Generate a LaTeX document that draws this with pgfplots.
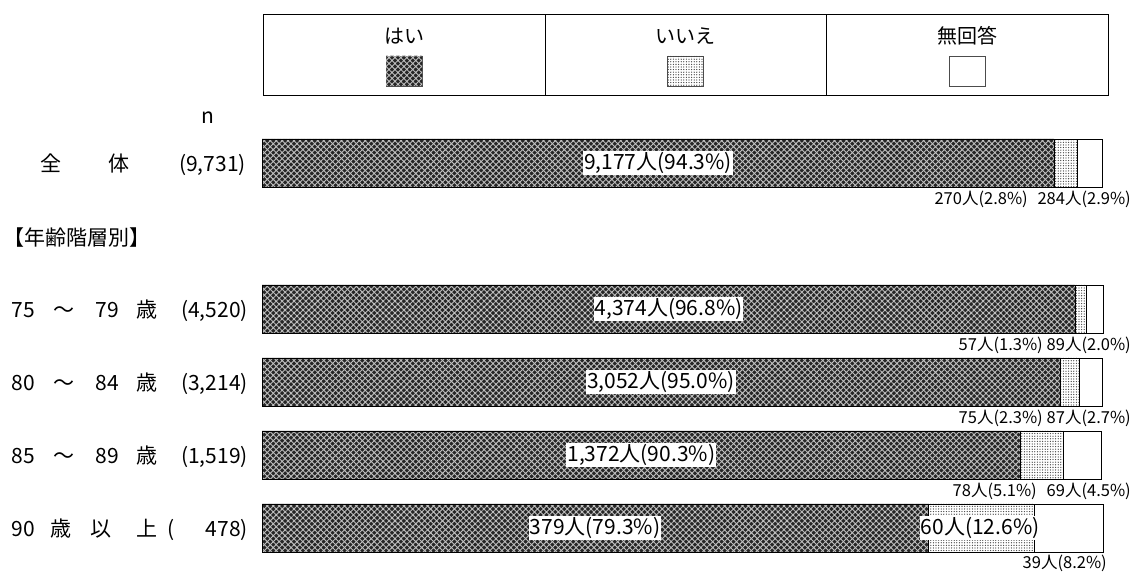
\documentclass[border=0pt]{standalone}
\usepackage{fontspec}
\setmainfont{Noto Sans CJK JP}
\usepackage{pgfplots}
\pgfplotsset{compat=1.18}
\usetikzlibrary{patterns.meta}

\tikzset{
 yesfill/.style={fill=black!85, postaction={pattern={Hatch[angle=45,distance=4.2pt,line width=0.9pt]}, pattern color=white!75!black}},
 nofill/.style={fill=white, postaction={pattern={Dots[distance=2.6pt,radius=0.65pt]}, pattern color=black!75}},
 nafill/.style={fill=white},
 big/.style={font=\fontsize{21}{21}\selectfont, fill=white, inner sep=1pt},
 lab/.style={font=\fontsize{21}{21}\selectfont, anchor=base, inner sep=0pt},
 small/.style={font=\fontsize{16.5}{16.5}\selectfont, anchor=east, inner sep=0pt},
}

\begin{document}
\begin{tikzpicture}[x=1pt,y=1pt]
\path (0,0) rectangle (1136,570);

% legend
\draw[line width=0.8pt] (263,475) rectangle (1108,556);
\draw[line width=0.8pt] (545,475) -- (545,556);
\draw[line width=0.8pt] (826,475) -- (826,556);
\node[font=\fontsize{20}{20}\selectfont] at (404,534) {はい};
\node[font=\fontsize{20}{20}\selectfont] at (685.5,534) {いいえ};
\node[font=\fontsize{20}{20}\selectfont] at (967,534) {無回答};
\draw[yesfill, draw=black!70, line width=0.6pt] (386,484) rectangle (422,514);
\draw[nofill, draw=black!70, line width=0.6pt] (667.5,484) rectangle (703.5,514);
\draw[nafill, draw=black!70, line width=0.6pt] (949,484) rectangle (985,514);

\begin{axis}[at={(262pt,5.5pt)}, anchor=south west, scale only axis,
  width=840pt, height=438pt, xmin=0, xmax=100, ymin=-0.5, ymax=5.5,
  axis lines=none, xbar stacked, bar width=48pt, clip=false]
\addplot[yesfill, draw=black, line width=0.7pt] coordinates {(94.3,5) (96.8,3) (95.0,2) (90.3,1) (79.3,0)};
\addplot[nofill, draw=black, line width=0.7pt] coordinates {(2.8,5) (1.3,3) (2.3,2) (5.1,1) (12.6,0)};
\addplot[nafill, draw=black, line width=0.7pt] coordinates {(2.9,5) (2.0,3) (2.7,2) (4.5,1) (8.2,0)};
\coordinate (L1) at (axis cs:47.15,5);
\coordinate (L2) at (axis cs:48.4,3);
\coordinate (L3) at (axis cs:47.5,2);
\coordinate (L4) at (axis cs:45.15,1);
\coordinate (L5) at (axis cs:39.65,0);
\coordinate (L6) at (axis cs:85.5,0);
\end{axis}

\node[big] at (L1) {9,177人(94.3\%)};
\node[big] at (L2) {4,374人(96.8\%)};
\node[big] at (L3) {3,052人(95.0\%)};
\node[big] at (L4) {1,372人(90.3\%)};
\node[big] at (L5) {379人(79.3\%)};
\node[big] at (L6) {60人(12.6\%)};

% small labels
\node[small] at (1028,371) {270人(2.8\%)};
\node[small] at (1131,371) {284人(2.9\%)};
\node[small] at (1043,225) {57人(1.3\%)};
\node[small] at (1131,225) {89人(2.0\%)};
\node[small] at (1043,152) {75人(2.3\%)};
\node[small] at (1131,152) {87人(2.7\%)};
\node[small] at (1037,79) {78人(5.1\%)};
\node[small] at (1131,79) {69人(4.5\%)};
\node[small] at (1107,7) {39人(8.2\%)};

% left labels
\node[lab] at (208,446) {n};
\node[lab] at (51,398.5) {全};
\node[lab] at (119,398.5) {体};
\node[lab, anchor=base east] at (246,398.5) {(9,731)};
\node[lab, anchor=base west] at (3,324.5) {【年齢階層別】};

\node[lab] at (23,252.5) {75};
\node[lab] at (64,252.5) {～};
\node[lab] at (107,252.5) {79};
\node[lab] at (147,252.5) {歳};
\node[lab, anchor=base east] at (248,252.5) {(4,520)};

\node[lab] at (23,179.5) {80};
\node[lab] at (64,179.5) {～};
\node[lab] at (107,179.5) {84};
\node[lab] at (147,179.5) {歳};
\node[lab, anchor=base east] at (248,179.5) {(3,214)};

\node[lab] at (23,106.5) {85};
\node[lab] at (64,106.5) {～};
\node[lab] at (107,106.5) {89};
\node[lab] at (147,106.5) {歳};
\node[lab, anchor=base east] at (248,106.5) {(1,519)};

\node[lab] at (23,33.5) {90};
\node[lab] at (61,33.5) {歳};
\node[lab] at (101,33.5) {以};
\node[lab] at (147,33.5) {上};
\node[lab, anchor=base west] at (167,33.5) {(};
\node[lab, anchor=base east] at (248,33.5) {478)};
\end{tikzpicture}
\end{document}
